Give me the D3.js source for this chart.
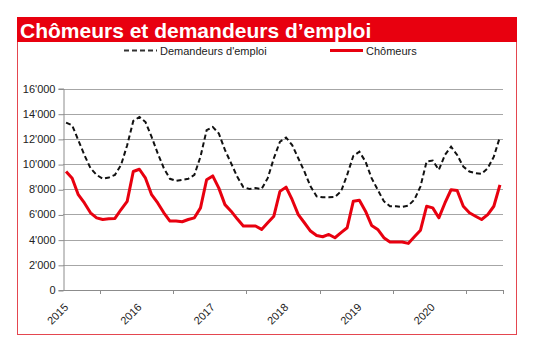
<!DOCTYPE html>
<html>
<head>
<meta charset="utf-8">
<script src="https://cdn.jsdelivr.net/npm/d3@7"></script>
<style>
  body { margin: 0; background: #fff; }
  svg { display: block; font-family: Arial, "Liberation Sans", sans-serif; }
</style>
</head>
<body>
<svg id="chart"></svg>
<script>
// monthly values, jan 2015 -> dec 2020
var years = ['2015', '2016', '2017', '2018', '2019', '2020'];

var demandeurs = [
  13290, 13080, 11900, 10720, 9670, 9140, 8830, 8930, 9140, 9930, 11500, 13420,
  13740, 13340, 12160, 10850, 9670, 8830, 8670, 8750, 8830, 9140, 10590, 12690,
  12950, 12430, 11120, 10070, 9010, 8170, 8020, 8090, 8020, 8880, 10460, 11770,
  12110, 11510, 10460, 9410, 8230, 7440, 7360, 7360, 7390, 7830, 9140, 10640,
  10980, 10200, 8880, 7960, 7050, 6650, 6650, 6600, 6700, 7170, 8230, 10200,
  10280, 9540, 10720, 11380, 10720, 9800, 9410, 9270, 9220, 9670, 10590, 12160
];

var chomeurs = [
  9410, 8880, 7570, 6910, 6130, 5730, 5600, 5650, 5680, 6390, 7040, 9410,
  9590, 8880, 7570, 6910, 6130, 5470, 5470, 5420, 5600, 5730, 6520, 8750,
  9060, 8090, 6780, 6260, 5650, 5080, 5080, 5080, 4810, 5340, 5860, 7830,
  8170, 7170, 5990, 5340, 4680, 4330, 4230, 4410, 4150, 4550, 4940, 7040,
  7120, 6260, 5130, 4810, 4150, 3810, 3810, 3810, 3700, 4230, 4750, 6650,
  6520, 5730, 6910, 7960, 7900, 6650, 6130, 5860, 5600, 5990, 6650, 8350
];

var yTicks = [0, 2000, 4000, 6000, 8000, 10000, 12000, 14000, 16000];

var W = 537, H = 353;
var red = '#e8000f';
var plot = { left: 63, right: 503, top: 88.5, bottom: 290 };

var svg = d3.select('#chart')
  .attr('width', W)
  .attr('height', H);

// frame + title band
svg.append('rect')
  .attr('x', 17.5).attr('y', 17.5)
  .attr('width', 499).attr('height', 317)
  .attr('fill', 'none')
  .attr('stroke', '#e4464f')
  .attr('stroke-width', 1);

svg.append('rect')
  .attr('x', 17).attr('y', 17)
  .attr('width', 500).attr('height', 25)
  .attr('fill', red);

svg.append('text')
  .attr('x', 20).attr('y', 38)
  .attr('fill', '#fff')
  .style('font-size', '21px')
  .style('font-weight', 'bold')
  .text('Chômeurs et demandeurs d’emploi');

var months = d3.range(demandeurs.length);

var xScale = d3.scaleBand()
  .domain(months)
  .range([plot.left, plot.right]);

var yScale = d3.scaleLinear()
  .domain([0, 16000])
  .range([plot.bottom, plot.top]);

var fmt = function(d) { return d3.format(',')(d).replace(/,/g, '\''); };

// gridlines
svg.append('g')
  .selectAll('line')
  .data(yTicks.slice(1))
  .enter()
  .append('line')
    .attr('x1', plot.left)
    .attr('x2', plot.right)
    .attr('y1', d => Math.round(yScale(d)) + 0.5)
    .attr('y2', d => Math.round(yScale(d)) + 0.5)
    .attr('stroke', '#a6a6a6')
    .attr('stroke-width', 1);

// y axis
var yAxis = d3.axisLeft(yScale)
  .tickValues(yTicks)
  .tickSize(5)
  .tickPadding(3)
  .tickFormat(fmt);

var gy = svg.append('g')
  .attr('transform', 'translate(' + (plot.left + 0.5) + ',0)')
  .call(yAxis);
gy.select('.domain').attr('stroke', '#8c8c8c');
gy.selectAll('.tick line').attr('stroke', '#8c8c8c')
  .attr('transform', 'translate(0,0.5)');
gy.selectAll('text')
  .attr('fill', '#222')
  .style('font-size', '11px')
  .style('font-family', 'Arial, "Liberation Sans", sans-serif');

// x axis: ticks at mid-year boundaries, labels at january
var xTickPos = [6, 18, 30, 42, 54, 66].map(i => xScale(i)).concat([plot.right]);

var gx = svg.append('g');
gx.append('line')
  .attr('x1', plot.left).attr('x2', plot.right)
  .attr('y1', plot.bottom + 0.5).attr('y2', plot.bottom + 0.5)
  .attr('stroke', '#8c8c8c');
gx.selectAll('line.tick')
  .data(xTickPos)
  .enter()
  .append('line')
    .attr('class', 'tick')
    .attr('x1', d => Math.round(d) + 0.5)
    .attr('x2', d => Math.round(d) + 0.5)
    .attr('y1', plot.bottom)
    .attr('y2', plot.bottom + 4)
    .attr('stroke', '#8c8c8c');
gx.selectAll('text')
  .data(years)
  .enter()
  .append('text')
    .attr('text-anchor', 'end')
    .attr('fill', '#222')
    .style('font-size', '11px')
    .attr('transform', (d, i) => 'translate(' + (xScale(i * 12) + 6) + ',' + (plot.bottom + 18) + ') rotate(-45)')
    .text(d => d);

// lines
var line = d3.line()
  .x((d, i) => xScale(i) + xScale.bandwidth() / 2)
  .y(d => yScale(d));

svg.append('path')
  .datum(demandeurs)
  .attr('d', line)
  .attr('fill', 'none')
  .attr('stroke', '#111')
  .attr('stroke-width', 2)
  .attr('stroke-dasharray', '5,3');

svg.append('path')
  .datum(chomeurs)
  .attr('d', line)
  .attr('fill', 'none')
  .attr('stroke', red)
  .attr('stroke-width', 3)
  .attr('stroke-linejoin', 'round');

// legend
var legend = svg.append('g');
legend.append('line')
  .attr('x1', 124).attr('x2', 157)
  .attr('y1', 50.5).attr('y2', 50.5)
  .attr('stroke', '#333')
  .attr('stroke-width', 2)
  .attr('stroke-dasharray', '5,3');
legend.append('text')
  .attr('x', 160).attr('y', 54.5)
  .attr('fill', '#222')
  .style('font-size', '11px')
  .text('Demandeurs d\'emploi');
legend.append('line')
  .attr('x1', 330).attr('x2', 363)
  .attr('y1', 50.5).attr('y2', 50.5)
  .attr('stroke', red)
  .attr('stroke-width', 3);
legend.append('text')
  .attr('x', 366).attr('y', 54.5)
  .attr('fill', '#222')
  .style('font-size', '11px')
  .text('Chômeurs');
</script>
</body>
</html>
